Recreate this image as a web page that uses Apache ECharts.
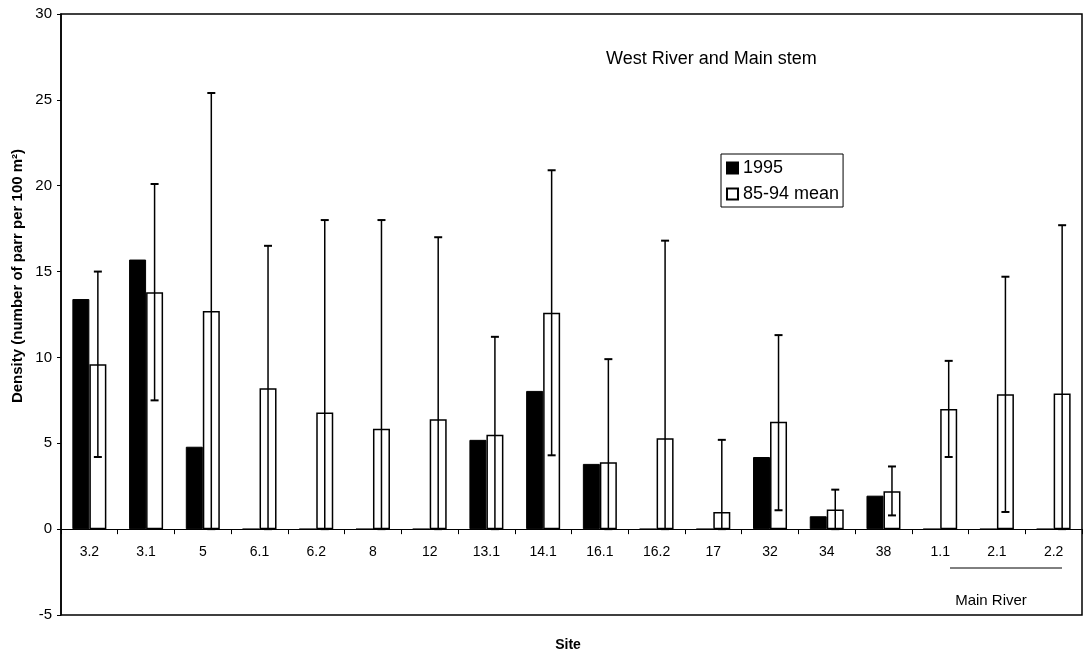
<!DOCTYPE html>
<html>
<head>
<meta charset="utf-8">
<script src="https://cdn.jsdelivr.net/npm/echarts@6/dist/echarts.min.js"></script>
<style>
  html, body { margin: 0; padding: 0; background: #fff; }
  #chart { width: 1085px; height: 659px; }
</style>
</head>
<body>
<div id="chart"></div>
<script>
const sites = ["3.2", "3.1", "5", "6.1", "6.2", "8", "12", "13.1", "14.1", "16.1", "16.2", "17", "32", "34", "38", "1.1", "2.1", "2.2"];
const y1995 = [13.4, 15.7, 4.8, 0, 0, 0, 0, 5.2, 8.05, 3.8, 0, 0, 4.2, 0.75, 1.95, 0, 0, 0];
const mean8594 = [9.6, 13.8, 12.7, 8.2, 6.8, 5.85, 6.4, 5.5, 12.6, 3.9, 5.3, 1.0, 6.25, 1.15, 2.2, 7.0, 7.85, 7.9];
const errUpper = [15.0, 20.1, 25.4, 16.5, 18.0, 18.0, 17.0, 11.2, 20.9, 9.9, 16.8, 5.2, 11.3, 2.3, 3.65, 9.8, 14.7, 17.7];
const errLower = [4.2, 7.5, 0, 0, 0, 0, 0, 0, 4.3, 0, 0, 0, 1.1, 0, 0.8, 4.2, 1.0, 0];
const yTicks = { min: -5, max: 30, step: 5 };

const font = "'Liberation Sans', Arial, sans-serif";
const barW = 17;

const chart = echarts.init(document.getElementById("chart"));

const errData = sites.map((s, i) => [i, errLower[i], errUpper[i]]);

chart.setOption({
  animation: false,
  textStyle: { fontFamily: font, color: "#000" },
  grid: {
    left: 61, right: 3, top: 14, bottom: 44,
    outerBoundsMode: "none",
    containLabel: false,
    show: true, borderColor: "#000", borderWidth: 1.5
  },
  title: {
    text: "West River and Main stem",
    left: 601, top: 45,
    textStyle: { fontFamily: font, fontSize: 18, fontWeight: "normal", color: "#000" }
  },
  legend: {
    data: ["1995", "85-94 mean"],
    orient: "vertical",
    left: 721, top: 154,
    icon: "rect",
    itemWidth: 11, itemHeight: 11,
    itemGap: 8,
    padding: [5, 4, 4, 5],
    borderColor: "#000", borderWidth: 1,
    textStyle: { fontFamily: font, fontSize: 18, color: "#000" }
  },
  xAxis: {
    type: "category",
    data: sites,
    axisLine: { onZero: true, lineStyle: { color: "#000", width: 1.2 } },
    axisTick: { show: true, length: 5, lineStyle: { color: "#000" } },
    axisLabel: { fontFamily: font, fontSize: 14, color: "#000", margin: -70, interval: 0 },
    splitLine: { show: false }
  },
  yAxis: {
    type: "value",
    min: yTicks.min, max: yTicks.max, interval: yTicks.step,
    axisLine: { show: true, lineStyle: { color: "#000", width: 1.5 } },
    axisTick: { show: true, length: 4, lineStyle: { color: "#000" } },
    axisLabel: { fontFamily: font, fontSize: 15, color: "#000", margin: 9 },
    splitLine: { show: false }
  },
  series: [
    {
      name: "1995",
      type: "bar",
      data: y1995,
      barWidth: barW,
      barGap: "0%",
      itemStyle: { color: "#000", borderColor: "#000", borderWidth: 1 }
    },
    {
      name: "85-94 mean",
      type: "bar",
      data: mean8594,
      barWidth: barW,
      barGap: "0%",
      itemStyle: { color: "#fff", borderColor: "#000", borderWidth: 1.5 }
    },
    {
      name: "err",
      type: "custom",
      z: 10,
      data: errData,
      renderItem: function (params, api) {
        const i = api.value(0);
        const lo = api.coord([i, api.value(1)]);
        const hi = api.coord([i, api.value(2)]);
        const x = lo[0] + barW / 2;
        const cap = 4;
        return {
          type: "group",
          children: [
            { type: "line", shape: { x1: x, y1: lo[1], x2: x, y2: hi[1] }, style: { stroke: "#000", lineWidth: 1.5 } },
            { type: "line", shape: { x1: x - cap, y1: hi[1], x2: x + cap, y2: hi[1] }, style: { stroke: "#000", lineWidth: 2 } },
            { type: "line", shape: { x1: x - cap, y1: lo[1], x2: x + cap, y2: lo[1] }, style: { stroke: "#000", lineWidth: 2 } }
          ]
        };
      }
    }
  ],
  graphic: [
    {
      type: "text",
      x: 18, y: 276,
      rotation: Math.PI / 2,
      style: {
        text: "Density (number of parr per 100 m²)",
        font: "bold 15px " + font, fill: "#000",
        align: "center", verticalAlign: "middle"
      }
    },
    {
      type: "text",
      x: 568, y: 645,
      style: { text: "Site", font: "bold 14px " + font, fill: "#000", align: "center", verticalAlign: "middle" }
    },
    {
      type: "line",
      shape: { x1: 950, y1: 568, x2: 1062, y2: 568 },
      style: { stroke: "#000", lineWidth: 1 }
    },
    {
      type: "text",
      x: 991, y: 601,
      style: { text: "Main River", font: "15px " + font, fill: "#000", align: "center", verticalAlign: "middle" }
    }
  ]
});
</script>
</body>
</html>
